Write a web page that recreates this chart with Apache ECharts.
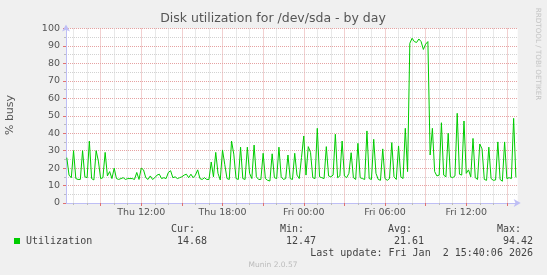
<!DOCTYPE html>
<html><head><meta charset="utf-8">
<script src="https://cdn.jsdelivr.net/npm/echarts@6/dist/echarts.min.js"></script>
<style>html,body{margin:0;padding:0;background:#F0F0F0}#c{width:547px;height:275px}</style>
</head><body><div id="c"></div>
<script>
// ---- data ----
const sampleStartMinute = 390;   // Thu 06:30 (minutes since Thu 00:00)
const sampleStepMinutes = 10;
const utilization = [
 26,16,14.5,30,14,13.5,13.5,30,15,14.5,35.5,14,13.2,30,24,14,14.5,29,15.5,18,
 14,20,14,13.5,14,14.5,13.5,14,14,14,13.5,17.5,13.5,20,19,14.5,13.5,15.5,13.5,14.5,
 16,16.5,14,14.5,14,17.5,18.5,14.5,15,14,14.5,15,16,16.5,14.5,16.5,14.5,16,19,14,
 13.5,14.5,13.5,13.5,23.5,15,29,17,13.2,30.4,22,14,13.5,35.5,28,14,13.5,32,14,13.5,
 32,17,14,33.2,15,13.5,13.5,28.5,14,13,12.6,28.2,14.5,14,32,15,13.5,14,27.5,14,
 13.5,28.5,16,14,26,38.4,16,32.3,29,14.5,14,42.8,15,14.5,14,32.3,15.5,15,16,39.4,
 14.5,15.5,35.5,15.5,14.5,17,28.8,14.5,13.5,34.2,14.5,14,13.5,41.3,14,13.5,36.5,17,13.5,13,
 31,14,13,14,34.6,15,13.5,32.7,15,14,42.8,18,91.5,94.42,92.5,92,94,92.5,88,91,
 92.5,27.5,42.8,18,15.5,16,46,16,15,40,15,14.5,15.5,51.4,16.5,16,47,17,19,15,
 37,14.5,13.5,33.8,31,13.5,13,32,14,13,13.2,35,13.5,12.47,35,14,14.5,14,48.5,14.68
];
const xMinMinute = 386.5;
const xMaxMinute = 2388;
const xLabelMinutes = [720, 1080, 1440, 1800, 2160];
const xLabelTexts = ['Thu 12:00', 'Thu 18:00', 'Fri 00:00', 'Fri 06:00', 'Fri 12:00'];
const yLabelValues = [0,10,20,30,40,50,60,70,80,90,100];
const statNames = ['Cur:', 'Min:', 'Avg:', 'Max:'];
const statValues = ['14.68', '12.47', '21.61', '94.42'];
const seriesName = 'Utilization';
const titleText = 'Disk utilization for /dev/sda - by day';
const yAxisTitle = '% busy';
const lastUpdate = 'Last update: Fri Jan  2 15:40:06 2026';
const footerText = 'Munin 2.0.57';
const watermark = 'RRDTOOL / TOBI OETIKER';

// ---- build ----
const points = utilization.map((v, i) => [sampleStartMinute + i * sampleStepMinutes, v]);
const minorX = [], majorX = [];
for (let m = 420; m <= xMaxMinute; m += 60) { if (m % 180 === 0) majorX.push(m); else minorX.push(m); }
const minorY = [5,15,25,35,45,55,65,75,85,95];

const SANS = 'DejaVu Sans', MONO = 'DejaVu Sans Mono';
const AXISC = '#BEBEF5', MINC = '#D2D2D2', MAJC = '#E6A2A2';
const statX = [171, 280, 388, 497];

const graphic = [
  {type:'text', x:273, y:19, style:{text:titleText, font:'12.5px "DejaVu Sans"', fill:'#555', align:'center', verticalAlign:'middle'}},
  {type:'text', x:10.5, y:115, rotation:Math.PI/2, style:{text:yAxisTitle, font:'11px "DejaVu Sans"', fill:'#555', align:'center', verticalAlign:'middle'}},
  {type:'text', x:538, y:54, rotation:-Math.PI/2, style:{text:watermark, font:'7.2px "DejaVu Sans"', fill:'#C4C4C4', align:'center', verticalAlign:'middle'}},
  {type:'rect', shape:{x:14, y:238, width:6, height:6}, style:{fill:'#00CC00'}},
  {type:'text', x:26, y:241, style:{text:seriesName, font:'10px "DejaVu Sans Mono"', fill:'#444', align:'left', verticalAlign:'middle'}},
  {type:'text', x:533, y:253, style:{text:lastUpdate, font:'10px "DejaVu Sans Mono"', fill:'#444', align:'right', verticalAlign:'middle'}},
  {type:'text', x:273, y:265, style:{text:footerText, font:'7.5px "DejaVu Sans"', fill:'#BBBBBB', align:'center', verticalAlign:'middle'}}
];
statNames.forEach((n, k) => {
  graphic.push({type:'text', x:statX[k], y:229, style:{text:n, font:'10px "DejaVu Sans Mono"', fill:'#444', align:'left', verticalAlign:'middle'}});
  graphic.push({type:'text', x:statX[k] + 6, y:241, style:{text:statValues[k], font:'10px "DejaVu Sans Mono"', fill:'#444', align:'left', verticalAlign:'middle'}});
});

const chart = echarts.init(document.getElementById('c'), null, {renderer:'canvas'});
chart.setOption({
  animation:false,
  backgroundColor:'#F0F0F0',
  grid:{left:66, top:28.5, right:29.3, bottom:72, show:true, backgroundColor:'#FFFFFF', borderWidth:0, containLabel:false, outerBoundsMode:'none'},
  xAxis:[
    {type:'value', min:xMinMinute, max:xMaxMinute, position:'bottom', z:1,
     axisLine:{show:true, lineStyle:{color:AXISC, width:1}, symbol:['none','arrow'], symbolSize:[6,7], symbolOffset:[0,3]},
     axisTick:{show:true, customValues:minorX, length:2, lineStyle:{color:'#BBBBBB'}},
     axisLabel:{show:false},
     splitLine:{show:true, lineStyle:{color:MINC, width:1, type:[1,1]}}},
    {type:'value', min:xMinMinute, max:xMaxMinute, position:'bottom', z:1,
     axisLine:{show:false},
     axisTick:{show:true, customValues:majorX, length:3, lineStyle:{color:'#E07070'}},
     axisLabel:{show:true, customValues:xLabelMinutes, formatter:v => xLabelTexts[xLabelMinutes.indexOf(v)], color:'#555', fontSize:9.5, fontFamily:SANS, margin:5},
     splitLine:{show:true, lineStyle:{color:MAJC, width:1, type:[1,1]}}}
  ],
  yAxis:[
    {type:'value', min:0, max:100, position:'left', z:1,
     axisLine:{show:true, lineStyle:{color:AXISC, width:1}, symbol:['none','arrow'], symbolSize:[6,7], symbolOffset:[0,4]},
     axisTick:{show:true, customValues:minorY, length:2, lineStyle:{color:'#BBBBBB'}},
     axisLabel:{show:false},
     splitLine:{show:true, lineStyle:{color:MINC, width:1, type:[1,1]}}},
    {type:'value', min:0, max:100, interval:10, position:'left', z:1,
     axisLine:{show:false},
     axisTick:{show:true, customValues:yLabelValues, length:3, lineStyle:{color:'#E07070'}},
     axisLabel:{show:true, customValues:yLabelValues, color:'#555', fontSize:9.5, fontFamily:SANS, margin:6},
     splitLine:{show:true, showMinLine:false, lineStyle:{color:MAJC, width:1, type:[1,1]}}}
  ],
  series:[{
    name:seriesName, type:'line', xAxisIndex:0, yAxisIndex:0, data:points,
    showSymbol:false, symbol:'none', z:5,
    lineStyle:{color:'#00CC00', width:1}
  }],
  graphic:graphic
});
</script>
</body></html>
